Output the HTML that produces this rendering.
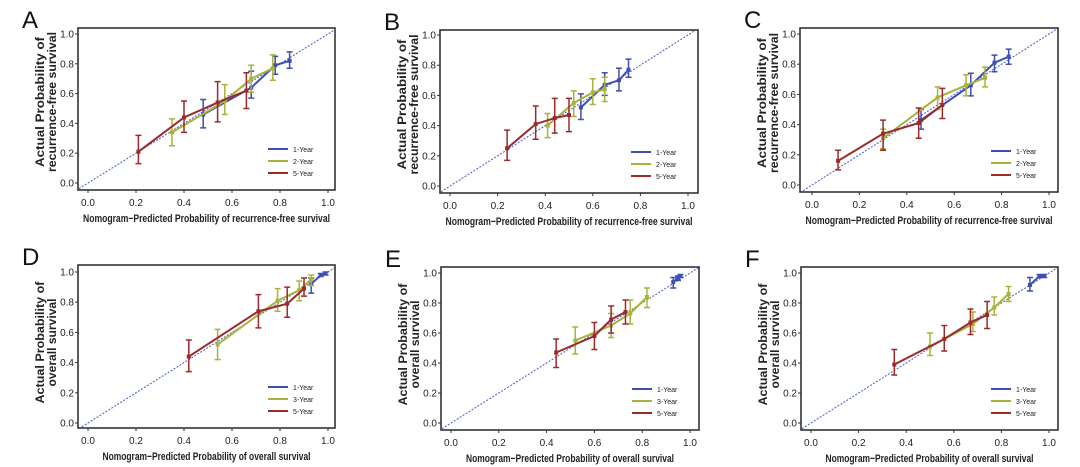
<!DOCTYPE html>
<html><head><meta charset="utf-8"><style>
html,body{margin:0;padding:0;background:#fff;}
svg{display:block;font-family:"Liberation Sans",Arial,sans-serif;}
</style></head><body>
<svg id="fig" width="1080" height="467" viewBox="0 0 1080 467" xmlns="http://www.w3.org/2000/svg"></svg>
<script>
// Data: [predicted, actual, lower, upper]
const panelLetters = ["A","B","C","D","E","F"];
const seriesNamesRFS = ["1-Year","2-Year","5-Year"];
const seriesNamesOS = ["1-Year","3-Year","5-Year"];
const tickValues = [0,0.2,0.4,0.6,0.8,1.0];
const tickLabels = ["0.0","0.2","0.4","0.6","0.8","1.0"];

const A_blue = [[0.48,0.46,0.37,0.56],[0.68,0.64,0.57,0.75],[0.78,0.79,0.73,0.85],[0.84,0.82,0.77,0.88]];
const A_green = [[0.35,0.34,0.25,0.43],[0.57,0.55,0.46,0.66],[0.68,0.70,0.61,0.79],[0.77,0.77,0.69,0.86]];
const A_red = [[0.21,0.21,0.13,0.32],[0.40,0.44,0.34,0.55],[0.54,0.54,0.41,0.68],[0.66,0.62,0.50,0.74]];
const B_blue = [[0.55,0.52,0.44,0.61],[0.65,0.67,0.60,0.75],[0.71,0.70,0.63,0.78],[0.75,0.77,0.72,0.84]];
const B_green = [[0.41,0.40,0.32,0.48],[0.52,0.55,0.46,0.63],[0.60,0.62,0.54,0.71],[0.65,0.64,0.56,0.72]];
const B_red = [[0.24,0.25,0.17,0.37],[0.36,0.41,0.31,0.53],[0.44,0.45,0.35,0.58],[0.50,0.47,0.36,0.58]];
const C_blue = [[0.46,0.43,0.37,0.50],[0.67,0.66,0.59,0.74],[0.77,0.81,0.75,0.86],[0.83,0.85,0.80,0.90]];
const C_green = [[0.30,0.31,0.24,0.37],[0.53,0.58,0.50,0.65],[0.65,0.66,0.59,0.73],[0.73,0.71,0.65,0.78]];
const C_red = [[0.11,0.16,0.10,0.23],[0.30,0.34,0.23,0.43],[0.45,0.41,0.31,0.51],[0.55,0.53,0.44,0.64]];
const D_blue = [[0.93,0.92,0.86,0.96],[0.97,0.98,0.97,0.99],[0.99,0.99,0.98,1.0]];
const D_green = [[0.54,0.52,0.42,0.62],[0.79,0.81,0.74,0.89],[0.88,0.88,0.81,0.94],[0.93,0.95,0.91,0.98]];
const D_red = [[0.42,0.44,0.34,0.55],[0.71,0.74,0.63,0.85],[0.83,0.79,0.70,0.90],[0.90,0.89,0.84,0.96]];
const E_blue = [[0.93,0.94,0.90,0.97],[0.95,0.97,0.95,0.98],[0.96,0.98,0.97,0.99]];
const E_green = [[0.52,0.55,0.46,0.64],[0.67,0.65,0.57,0.73],[0.75,0.73,0.66,0.82],[0.82,0.84,0.77,0.90]];
const E_red = [[0.44,0.47,0.37,0.56],[0.60,0.58,0.49,0.67],[0.67,0.69,0.60,0.78],[0.73,0.74,0.66,0.82]];
const F_blue = [[0.92,0.92,0.88,0.97],[0.96,0.98,0.97,0.99],[0.98,0.98,0.97,0.99]];
const F_green = [[0.50,0.51,0.45,0.60],[0.68,0.66,0.61,0.74],[0.77,0.77,0.72,0.84],[0.83,0.86,0.81,0.91]];
const F_red = [[0.35,0.39,0.32,0.49],[0.56,0.56,0.48,0.65],[0.67,0.67,0.59,0.76],[0.74,0.72,0.63,0.81]];

const colors = ["#3d4fb3","#a9b23a","#9b2a2a"];
const NS = "http://www.w3.org/2000/svg";
const svg = document.getElementById("fig");
function mk(tag, attrs, parent){
  const e = document.createElementNS(NS, tag);
  for (const k in attrs) e.setAttribute(k, attrs[k]);
  (parent||svg).appendChild(e);
  return e;
}
const panels = [
  {L:78,T:28,R:335,B:190,x0:88,x1:328,y0:183,y1:34,data:[A_blue,A_green,A_red],names:seriesNamesRFS,rfs:true},
  {L:440,T:30,R:698,B:193,x0:450,x1:688,y0:186,y1:35,data:[B_blue,B_green,B_red],names:seriesNamesRFS,rfs:true},
  {L:800,T:28,R:1058,B:192,x0:812,x1:1049,y0:185,y1:34,data:[C_blue,C_green,C_red],names:seriesNamesRFS,rfs:true},
  {L:78,T:265,R:335,B:428,x0:88,x1:328,y0:423,y1:272,data:[D_blue,D_green,D_red],names:seriesNamesOS,rfs:false},
  {L:441,T:267,R:699,B:430,x0:451,x1:690,y0:423,y1:273,data:[E_blue,E_green,E_red],names:seriesNamesOS,rfs:false},
  {L:801,T:267,R:1058,B:430,x0:811,x1:1049,y0:423,y1:273,data:[F_blue,F_green,F_red],names:seriesNamesOS,rfs:false}
];
panels.forEach((p,pi)=>{
  const g = mk("g",{});
  
  
  const sx = v => p.x0 + v*(p.x1-p.x0);
  const sy = v => p.y0 - v*(p.y0-p.y1);
  const letter = mk("text",{x:p.L-56,y:p.T,"font-size":24,fill:"#111"},g);
  letter.textContent = panelLetters[pi];
  
  
  const cl = mk("clipPath",{id:"clip"+pi},g);
  mk("rect",{x:p.L,y:p.T,width:p.R-p.L,height:p.B-p.T},cl);
  const diag = mk("line",{x1:sx(-0.1),y1:sy(-0.1),x2:sx(1.1),y2:sy(1.1),stroke:"#5566cc","stroke-width":1.1,"stroke-dasharray":"2,1.5","clip-path":"url(#clip"+pi+")"},g);
  
  
  tickValues.forEach((t,i)=>{
    mk("line",{x1:sx(t),y1:p.B,x2:sx(t),y2:p.B+3,stroke:"#333","stroke-width":1},g);
    const xt = mk("text",{x:sx(t),y:p.B+16,"font-size":10,"text-anchor":"middle",fill:"#222"},g);
    xt.textContent = tickLabels[i];
    
    
    mk("line",{x1:p.L-3,y1:sy(t),x2:p.L,y2:sy(t),stroke:"#333","stroke-width":1},g);
    const yt = mk("text",{x:p.L-4,y:sy(t)+3.5,"font-size":10,"text-anchor":"end",fill:"#222"},g);
    yt.textContent = tickLabels[i];
    
    
  });
  p.data.forEach((ser,si)=>{
    const c = colors[si];
    const pts = ser.map(d=>sx(d[0])+","+sy(d[1])).join(" ");
    const pl = mk("polyline",{points:pts,fill:"none",stroke:c,"stroke-width":2},g);
    
    
    ser.forEach(d=>{
      const x = sx(d[0]);
      const eb = mk("path",{d:`M${x},${sy(d[2])}V${sy(d[3])}M${x-3},${sy(d[2])}H${x+3}M${x-3},${sy(d[3])}H${x+3}`,stroke:c,"stroke-width":1.5,fill:"none"},g);
      
      
      const pt = mk("rect",{x:x-2,y:sy(d[1])-2,width:4,height:4,fill:c},g);
      
      
    });
  });
  const fr = mk("rect",{x:p.L,y:p.T,width:p.R-p.L,height:p.B-p.T,fill:"none",stroke:"#333","stroke-width":1.6},g);
  
  
  p.names.forEach((n,i)=>{
    const ly = p.B-41+i*12;
    const ll = mk("line",{x1:p.R-67,y1:ly,x2:p.R-47,y2:ly,stroke:colors[i],"stroke-width":2},g);
    
    
    const lt = mk("text",{x:p.R-42,y:ly+3,"font-size":7,fill:"#222"},g);
    lt.textContent = n;
    
    
  });
  const xl = mk("text",{x:(p.L+p.R)/2,y:p.B+32,"font-size":11,"font-weight":"bold","text-anchor":"middle",fill:"#222",textLength:p.rfs?247:208,lengthAdjust:"spacingAndGlyphs"},g);
  xl.textContent = p.rfs ? "Nomogram\u2212Predicted Probability of recurrence-free survival" : "Nomogram\u2212Predicted Probability of overall survival";
  
  
  const cy = (p.T+p.B)/2 - (p.rfs?7:4);
  const y1t = mk("text",{x:p.L-34,y:cy,"font-size":11.5,"font-weight":"bold","text-anchor":"middle",fill:"#222",transform:`rotate(-90 ${p.L-34} ${cy})`,textLength:p.rfs?130:122,lengthAdjust:"spacingAndGlyphs"},g);
  y1t.textContent = "Actual Probability of";
  
  
  const y2t = mk("text",{x:p.L-22,y:cy,"font-size":11.5,"font-weight":"bold","text-anchor":"middle",fill:"#222",transform:`rotate(-90 ${p.L-22} ${cy})`,textLength:p.rfs?140:88,lengthAdjust:"spacingAndGlyphs"},g);
  y2t.textContent = p.rfs ? "recurrence-free survival" : "overall survival";
  
  
});
</script>
</body></html>
